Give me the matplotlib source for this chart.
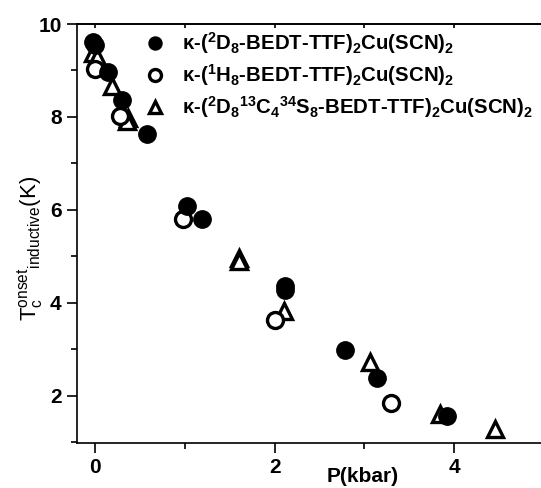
import matplotlib
matplotlib.use("Agg")
import matplotlib.pyplot as plt
from matplotlib.ticker import MultipleLocator

plt.rcParams['font.family'] = ['Liberation Sans', 'DejaVu Sans']
plt.rcParams['mathtext.fontset'] = 'custom'
plt.rcParams['mathtext.rm'] = 'Liberation Sans'
plt.rcParams['mathtext.bf'] = 'Liberation Sans:bold'
plt.rcParams['mathtext.it'] = 'Liberation Sans:italic'

# ================= DATOS =================
# kappa-(2D8-BEDT-TTF)2Cu(SCN)2  (circulos llenos)
p_d8 = [-0.02, 0.0, 0.15, 0.30, 0.58, 1.02, 1.19, 2.12, 2.11, 2.78, 3.14, 3.92]
tc_d8 = [9.62, 9.55, 8.96, 8.37, 7.63, 6.08, 5.81, 4.35, 4.27, 2.99, 2.37, 1.56]

# kappa-(1H8-BEDT-TTF)2Cu(SCN)2  (circulos abiertos)
p_h8 = [0.0, 0.28, 0.98, 2.0, 3.30]
tc_h8 = [9.04, 8.02, 5.80, 3.62, 1.85]

# kappa-(2D8 13C4 34S8-BEDT-TTF)2Cu(SCN)2  (triangulos)
p_iso = [-0.02, 0.02, 0.19, 0.37, 0.36, 1.60, 1.60, 2.10, 3.06, 3.84, 4.45]
tc_iso = [9.38, 9.30, 8.66, 7.98, 7.92, 4.96, 4.90, 3.82, 2.72, 1.60, 1.29]

labels = [
    r'κ-($^{\mathbf{2}}$D$_{\mathbf{8}}$-BEDT-TTF)$_{\mathbf{2}}$Cu(SCN)$_{\mathbf{2}}$',
    r'κ-($^{\mathbf{1}}$H$_{\mathbf{8}}$-BEDT-TTF)$_{\mathbf{2}}$Cu(SCN)$_{\mathbf{2}}$',
    r'κ-($^{\mathbf{2}}$D$_{\mathbf{8}}$$^{\mathbf{13}}$C$_{\mathbf{4}}$$^{\mathbf{34}}$S$_{\mathbf{8}}$-BEDT-TTF)$_{\mathbf{2}}$Cu(SCN)$_{\mathbf{2}}$',
]

# ================= GRAFICA =================
fig = plt.figure(figsize=(5.41, 4.88), dpi=100)
ax = fig.add_axes([0.1423, 0.0922, 0.8577, 0.8586])

h3, = ax.plot(p_iso, tc_iso, linestyle='none', marker='^', markersize=11,
              markerfacecolor='white', markeredgecolor='black', markeredgewidth=2.4)
h2, = ax.plot(p_h8, tc_h8, linestyle='none', marker='o', markersize=11.5,
              markerfacecolor='white', markeredgecolor='black', markeredgewidth=2.4)
h1, = ax.plot(p_d8, tc_d8, linestyle='none', marker='o', markersize=12.5,
              color='black')

ax.set_xlim(-0.2, 4.965)
ax.set_ylim(0.98, 10)
ax.xaxis.set_major_locator(MultipleLocator(2))
ax.xaxis.set_minor_locator(MultipleLocator(1))
ax.yaxis.set_major_locator(MultipleLocator(2))
ax.yaxis.set_minor_locator(MultipleLocator(1))

ax.spines['right'].set_visible(False)
for s in ['left', 'bottom', 'top']:
    ax.spines[s].set_linewidth(1.2)

ax.tick_params(axis='both', which='major', direction='out', length=7, width=1.2,
               labelsize=15, pad=4)
ax.tick_params(axis='both', which='minor', direction='out', length=4, width=1.2)
for lab in ax.get_xticklabels() + ax.get_yticklabels():
    lab.set_fontweight('bold')

# marcas pequenas hacia dentro en el borde superior
top = ax.secondary_xaxis('top')
top.xaxis.set_major_locator(MultipleLocator(1))
top.tick_params(direction='in', length=3, width=1.2, labeltop=False)
top.spines['top'].set_linewidth(1.2)

ax.set_xlabel('P(kbar)', fontsize=15, fontweight='bold', va='center')
ax.xaxis.set_label_coords(0.616, -0.081)
ax.set_ylabel(r'T$_{\mathrm{c}}^{\mathrm{onset}}$$_{\mathrm{inductive}}$(K)', fontsize=16, va='center')
ax.yaxis.set_label_coords(-0.101, 0.465)

leg = ax.legend([h1, h2, h3], labels, loc='upper left', bbox_to_anchor=(0.128, 1.004),
                frameon=False, prop={'weight': 'bold', 'size': 14.7},
                markerscale=0.75, handlelength=1.0, handletextpad=0.85,
                labelspacing=0.3, borderpad=0.4, borderaxespad=0)

fig.savefig('out.png', dpi=100)
